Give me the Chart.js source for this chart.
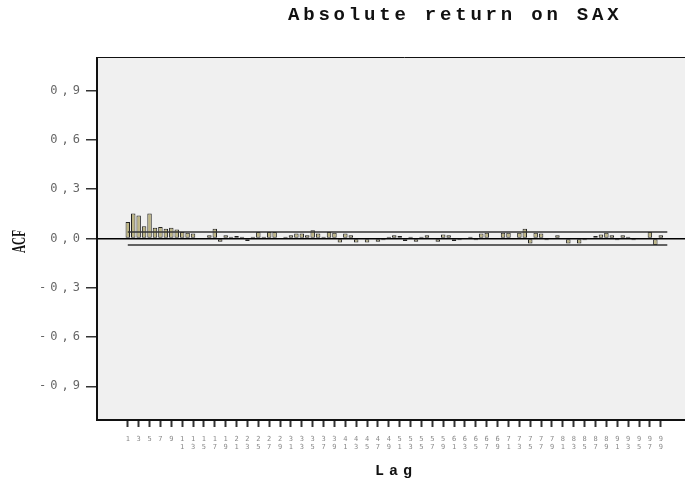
<!DOCTYPE html>
<html><head><meta charset="utf-8">
<script src="https://cdn.jsdelivr.net/npm/chart.js@4.4.1/dist/chart.umd.min.js"></script>
<style>
html,body{margin:0;padding:0;background:#fff;overflow:hidden;width:685px;height:482px}
#wrap{position:absolute;left:0;top:0;width:712px;height:482px}
</style></head>
<body><div id="wrap"><canvas id="c" width="712" height="482"></canvas></div>
<script>
const lags = [1,2,3,4,5,6,7,8,9,10,11,12,13,14,15,16,17,18,19,20,21,22,23,24,25,26,27,28,29,30,31,32,33,34,35,36,37,38,39,40,41,42,43,44,45,46,47,48,49,50,51,52,53,54,55,56,57,58,59,60,61,62,63,64,65,66,67,68,69,70,71,72,73,74,75,76,77,78,79,80,81,82,83,84,85,86,87,88,89,90,91,92,93,94,95,96,97,98,99,100];
const acf = [0.10,0.152,0.14,0.075,0.152,0.065,0.07,0.06,0.065,0.055,
             0.04,0.035,0.03,0.005,0.0,0.02,0.06,-0.02,0.02,0.01,
             0.015,0.01,-0.015,0.01,0.04,0.01,0.04,0.04,0.005,0.01,
             0.02,0.03,0.03,0.02,0.05,0.03,0.01,0.04,0.035,-0.025,
             0.03,0.02,-0.025,0.005,-0.025,0.005,-0.02,-0.01,0.01,0.02,
             0.015,-0.015,0.01,-0.02,0.01,0.02,0.005,-0.02,0.025,0.02,
             -0.015,-0.01,0.005,0.01,-0.01,0.03,0.035,0.005,0.005,0.035,
             0.035,0.005,0.035,0.06,-0.03,0.035,0.03,-0.01,0.005,0.02,
             0.005,-0.03,-0.005,-0.03,-0.01,0.005,0.015,0.025,0.035,0.02,
             -0.01,0.02,0.01,-0.01,0.005,0.005,0.04,-0.04,0.02,0.0];
const limitLags = [1, 100.2];
const upperLimit = [0.04, 0.04];
const lowerLimit = [-0.04, -0.04];
const xTickLags = [1,3,5,7,9,11,13,15,17,19,21,23,25,27,29,31,33,35,37,39,41,43,45,47,49,51,53,55,57,59,61,63,65,67,69,71,73,75,77,79,81,83,85,87,89,91,93,95,97,99];
const yTickValues = [-0.9,-0.6,-0.3,0,0.3,0.6,0.9];
const yTickLabels = ['-0,9','-0,6','-0,3','0,0','0,3','0,6','0,9'];
const titleText = 'Absolute return on SAX';
const xTitle = 'Lag';
const yTitle = 'ACF';

const frame = {
  id: 'frame',
  beforeDraw(chart) {
    const {ctx, chartArea: a} = chart;
    ctx.save();
    ctx.fillStyle = '#f0f0f0';
    ctx.fillRect(a.left, a.top, a.right - a.left, a.bottom - a.top);
    ctx.restore();
    ctx.letterSpacing = '4px';
  },
  beforeDatasetsDraw(chart) {
    chart.ctx.letterSpacing = '0px';
  },
  afterDraw(chart) {
    const {ctx, chartArea: a} = chart;
    ctx.save();
    ctx.letterSpacing = '0px';
    ctx.strokeStyle = '#111';
    ctx.lineWidth = 1;
    ctx.beginPath(); ctx.moveTo(a.left, a.top + 0.5); ctx.lineTo(a.right, a.top + 0.5); ctx.stroke();
    ctx.lineWidth = 2;
    ctx.beginPath(); ctx.moveTo(a.left, a.top); ctx.lineTo(a.left, a.bottom); ctx.lineTo(a.right, a.bottom); ctx.stroke();
    // titles
    ctx.fillStyle = '#111';
    ctx.textBaseline = 'alphabetic';
    ctx.textAlign = 'left';
    ctx.letterSpacing = '3.8px';
    ctx.font = 'bold 19px "Liberation Mono"';
    ctx.fillText(titleText, 288, 20);
    ctx.letterSpacing = '5px';
    ctx.font = 'bold 15px "Liberation Mono"';
    ctx.fillText(xTitle, 375, 475);
    ctx.letterSpacing = '0px';
    ctx.translate(25, 241.5);
    ctx.rotate(-Math.PI / 2);
    ctx.scale(0.62, 1);
    ctx.textAlign = 'center';
    ctx.font = 'bold 18px "Liberation Serif"';
    ctx.fillText(yTitle, 0, 0);
    ctx.restore();
  }
};

new Chart(document.getElementById('c'), {
  type: 'bar',
  data: {
    datasets: [
      {
        type: 'line',
        data: limitLags.map((x, i) => ({x, y: upperLimit[i]})),
        borderColor: '#333', borderWidth: 1.5, pointRadius: 0, fill: false, order: 1
      },
      {
        type: 'line',
        data: limitLags.map((x, i) => ({x, y: lowerLimit[i]})),
        borderColor: '#333', borderWidth: 1.5, pointRadius: 0, fill: false, order: 1
      },
      {
        type: 'bar',
        data: lags.map((x, i) => ({x, y: acf[i]})),
        backgroundColor: '#bdb584',
        borderColor: '#222',
        borderWidth: 1,
        borderSkipped: false,
        barPercentage: 0.82,
        categoryPercentage: 1,
        order: 2
      }
    ]
  },
  options: {
    responsive: false,
    animation: false,
    devicePixelRatio: 1,
    layout: {padding: {top: 57, left: 0, right: 0, bottom: 0}},
    plugins: {legend: {display: false}, tooltip: {enabled: false}, title: {display: false}},
    scales: {
      x: {
        type: 'linear',
        min: -4.66, max: 108.42,
        offset: false,
        border: {display: false},
        grid: {display: true, offset: false, drawOnChartArea: false, drawTicks: true,
               tickLength: 7, tickWidth: 2, tickColor: '#333'},
        ticks: {
          autoSkip: false, maxRotation: 0, minRotation: 0, padding: 8,
          labelOffset: 2,
          color: '#888',
          font: {family: '"DejaVu Sans Mono"', size: 7, lineHeight: 1.15},
          callback: (v) => { const s = String(v); return s.length < 2 ? s : [s[0], s[1]]; }
        },
        afterBuildTicks: (s) => { s.ticks = xTickLags.map(v => ({value: v})); },
        afterFit: (s) => { s.height = 62; }
      },
      y: {
        type: 'linear',
        min: -1.105, max: 1.105,
        border: {display: false},
        grid: {
          drawOnChartArea: true,
          color: (c) => (c.tick && c.tick.value === 0) ? '#000' : 'rgba(0,0,0,0)',
          lineWidth: 1.5,
          tickLength: 11, tickWidth: 1.5, tickColor: '#333'
        },
        ticks: {
          padding: 2,
          color: '#666',
          font: {family: '"DejaVu Sans Mono"', size: 12},
          callback: (v) => { const i = yTickValues.findIndex(t => Math.abs(t - v) < 1e-9); return i >= 0 ? yTickLabels[i] : ''; }
        },
        afterBuildTicks: (s) => { s.ticks = yTickValues.map(v => ({value: v})); },
        afterFit: (s) => { s.width = 97; }
      }
    }
  },
  plugins: [frame]
});
</script>
</body></html>
